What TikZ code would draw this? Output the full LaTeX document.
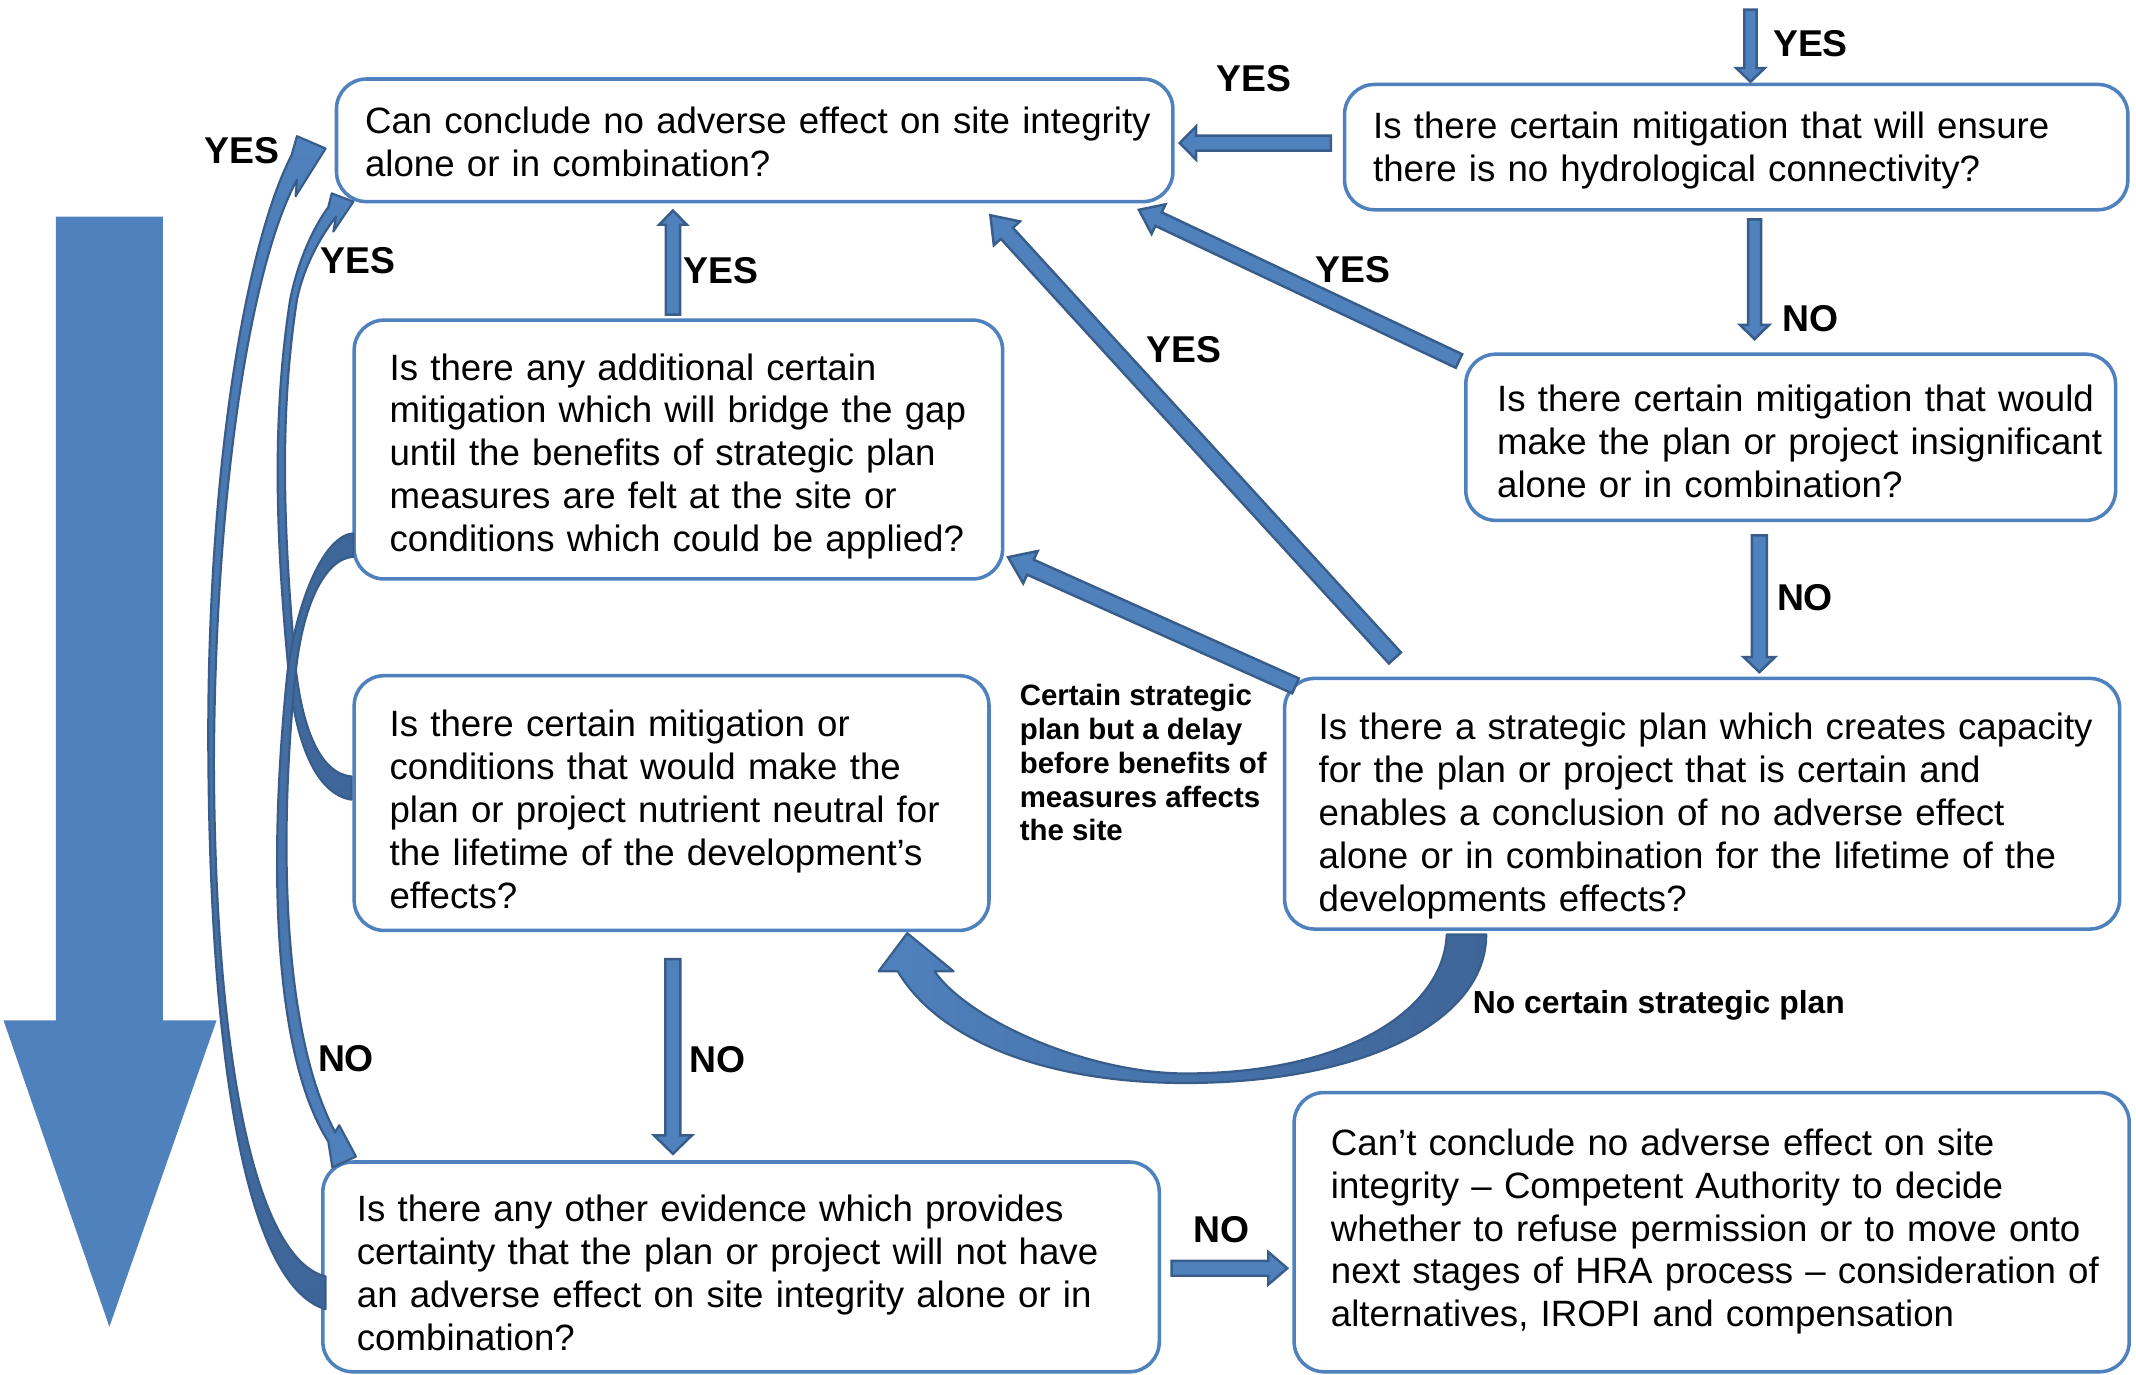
\documentclass[tikz,border=0pt]{standalone}
\usepackage{fontspec}
\setmainfont{Liberation Sans}
\usetikzlibrary{calc}

\definecolor{boxblue}{HTML}{4F81BD}
\definecolor{arrfill}{HTML}{4F81BD}
\definecolor{arrline}{HTML}{385D8A}
\definecolor{arrdark}{HTML}{3E6598}

\tikzset{
  qbox/.style={draw=boxblue, line width=2.6pt, rounded corners=22pt,
    anchor=north west, outer sep=0pt, inner ysep=0pt, align=left,
    font=\fontsize{26.9}{31.5}\selectfont,
    execute at begin node={\rightskip=0pt plus 1fil minus 200pt}},
  yesno/.style={font=\bfseries\fontsize{27.4}{31.5}\selectfont, inner sep=0pt},
  note/.style={font=\bfseries\fontsize{21.6}{24.8}\selectfont, inner sep=0pt, align=left},
  plannote/.style={font=\bfseries\fontsize{23.4}{27}\selectfont, inner sep=0pt},
  blockarr/.style={fill=arrfill, draw=arrline, line width=1.8pt, line join=miter},
  curvearr/.style={draw=arrline, line width=1.6pt, line join=round},
}

% start, tip, half shaft, half head, head length
\newcommand{\blockarrow}[5]{%
  \coordinate (ba-s) at (#1);
  \coordinate (ba-t) at (#2);
  \coordinate (ba-h) at ($(ba-t)!#5!(ba-s)$);
  \filldraw[blockarr]
    ($(ba-s)!#3!90:(ba-t)$) -- ($(ba-h)!#3!-90:(ba-s)$) -- ($(ba-h)!#4!-90:(ba-s)$)
    -- (ba-t) -- ($(ba-h)!#4!90:(ba-s)$) -- ($(ba-h)!#3!90:(ba-s)$)
    -- ($(ba-s)!#3!-90:(ba-t)$) -- cycle;
}

\begin{document}
\begin{tikzpicture}[x=1pt, y=-1pt]
\useasboundingbox (0,0) rectangle (1568,1009);

% big arrow down the left side
\fill[arrfill] (41,159) -- (119.6,159) -- (119.6,749) -- (159,749)
  -- (80.3,974) -- (2.6,749) -- (41,749) -- cycle;

% question boxes
\node[qbox, text width=572pt, text height=40pt, text depth=50pt, inner xsep=21pt] (concl) at (247,58)
  {Can conclude no adverse effect on site integrity\\alone or in combination?};
\node[qbox, text width=533pt, text height=40pt, text depth=52pt, inner xsep=21pt] (hydro) at (987,62)
  {Is there certain mitigation that will ensure\\there is no hydrological connectivity?};
\node[qbox, text width=431pt, text height=42pt, text depth=80pt, inner xsep=23pt] (insig) at (1076,260)
  {Is there certain mitigation that would\\make the plan or project insignificant\\alone or in combination?};
\node[qbox, text width=424pt, text height=44pt, text depth=146pt, inner xsep=26pt] (bridge) at (260,235)
  {Is there any additional certain\\mitigation which will bridge the gap\\until the benefits of strategic plan\\measures are felt at the site or\\conditions which could be applied?};
\node[qbox, text width=414pt, text height=45pt, text depth=142pt, inner xsep=26pt] (neutral) at (260,496)
  {Is there certain mitigation or\\conditions that would make the\\plan or project nutrient neutral for\\the lifetime of the development’s\\effects?};
\node[qbox, text width=563pt, text height=45pt, text depth=139pt, inner xsep=25pt] (strat) at (943,498)
  {Is there a strategic plan which creates capacity\\for the plan or project that is certain and\\enables a conclusion of no adverse effect\\alone or in combination for the lifetime of the\\developments effects?};
\node[qbox, text width=564pt, text height=44pt, text depth=110pt, inner xsep=25pt] (other) at (237,853)
  {Is there any other evidence which provides\\certainty that the plan or project will not have\\an adverse effect on site integrity alone or in\\combination?};
\node[qbox, text width=559pt, text height=46pt, text depth=159pt, inner xsep=27pt] (cant) at (950,802)
  {Can’t conclude no adverse effect on site\\integrity – Competent Authority to decide\\whether to refuse permission or to move onto\\next stages of HRA process – consideration of\\alternatives, IROPI and compensation};

% straight arrows
\coordinate (entry) at (1285,7);
\blockarrow{entry}{$(hydro.north west)+(298,-2)$}{4.5pt}{10.5pt}{10pt}
\blockarrow{$(hydro.west)+(-10,-3)$}{$(concl.east)+(5,2)$}{5.5pt}{12.2pt}{12pt}
\blockarrow{$(hydro.south)+(13.5,7)$}{$(insig.north)+(-26.5,-11)$}{4.8pt}{10.7pt}{10.5pt}
\blockarrow{$(insig.south)+(-23,11)$}{$(strat.north)+(42,-4.6)$}{5.5pt}{11.5pt}{11pt}
\blockarrow{$(insig.north west)+(-5,5)$}{$(concl.south east)+(-25,6)$}{5.5pt}{12pt}{16pt}
\blockarrow{$(strat.north west)+(81,-15)$}{$(concl.south)+(173,10)$}{6pt}{13pt}{18pt}
\blockarrow{$(strat.north west)+(8,5.5)$}{$(bridge.east)+(4,79)$}{6pt}{13pt}{18pt}
\blockarrow{$(bridge.north)+(-4,-4)$}{$(concl.south)+(-60,6.5)$}{5.3pt}{10.2pt}{10.5pt}
\blockarrow{$(neutral.south)+(1,21)$}{$(other.north)+(-50,-6)$}{5.5pt}{14pt}{13.6pt}
\blockarrow{$(other.east)+(9,1)$}{$(cant.west)+(-5,26.5)$}{5.5pt}{12pt}{14pt}

% curved arrow from the strategic plan back to the nutrient box
\path[curvearr, left color=arrfill, right color=arrdark]
  ($(strat.south west)+(148,4)$) .. controls (1091,750) and (1000,795) .. (870,795)
  .. controls (770,795) and (690,765) .. (659,713) -- (645,713)
  -- ($(neutral.south east)+(-60,2)$) -- (700,713) -- (686,713)
  .. controls (712,750) and (800,788) .. (870,788)
  .. controls (990,788) and (1060,740) .. ($(strat.south west)+(119,4)$) -- cycle;

% curved arrows on the left
\path[curvearr, top color=arrfill, bottom color=arrdark]
  ($(other.west)+(2,31)$) .. controls (185,945) and (155,800) .. (153,560)
  .. controls (151,350) and (180,180) .. (214,114)
  -- (218,100) -- ($(concl.west)+(-8,6)$) -- (217,144) -- (218,132)
  .. controls (186,190) and (158,350) .. (157,560)
  .. controls (158,790) and (190,925) .. ($(other.west)+(2,7)$) -- cycle;
\path[curvearr, top color=arrfill, bottom color=arrdark]
  ($(neutral.west)+(-2,-2.5)$) .. controls (232,583) and (217,545) .. (212,494)
  .. controls (203,400) and (199,310) .. (213,220)
  .. controls (218,195) and (228,170) .. (241,152)
  -- (243.5,142) -- ($(concl.south west)+(12.4,0)$) -- (244.7,170) -- (246.7,159)
  .. controls (232,178) and (222,200) .. (218,220)
  .. controls (204,310) and (209,400) .. (217,490)
  .. controls (222,535) and (235,568) .. ($(neutral.west)+(-2,-19.5)$) -- cycle;
\path[curvearr, top color=arrdark, bottom color=arrfill]
  ($(bridge.west)+(-0.6,61.5)$) .. controls (238,393) and (218,440) .. (211,494)
  .. controls (198,620) and (198,770) .. (241,838)
  -- (244,857) -- ($(other.north west)+(24.3,-4)$) -- (249,826) -- (246,831)
  .. controls (208,760) and (204,620) .. (217,494)
  .. controls (222,445) and (238,410) .. ($(bridge.west)+(-0.6,78.7)$) -- cycle;

% labels
\node[yesno] (y-top) at (1329,32) {YES};
\node[yesno] (y-hydro) at (920.5,57.5) {YES};
\node[yesno] (y-other) at (177.4,110.7) {YES};
\node[yesno] (y-neutral) at (263,191.5) {YES};
\node[yesno] (y-bridge) at (529.4,198.6) {YES};
\node[yesno] (y-insig) at (993,198) {YES};
\node[yesno] (y-strat) at (869,257) {YES};
\node[yesno] (n-hydro) at (1328.8,233.7) {NO};
\node[yesno] (n-insig) at (1325,439) {NO};
\node[yesno] (n-bridge) at (254,777) {NO};
\node[yesno] (n-neutral) at (527,778) {NO};
\node[yesno] (n-other) at (897,903) {NO};
\node[plannote, anchor=base west] (n-plan) at (1081,743.7) {No certain strategic plan};
\node[note, anchor=north west] (delay) at (748.4,502.2)
  {Certain strategic\\plan but a delay\\before benefits of\\measures affects\\the site};
\end{tikzpicture}
\end{document}
